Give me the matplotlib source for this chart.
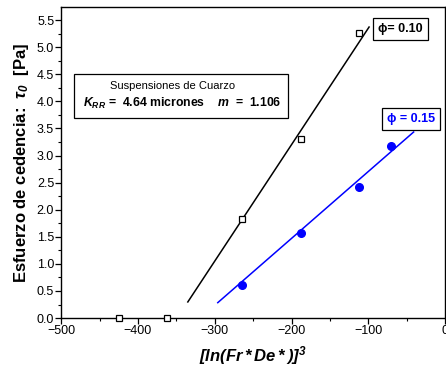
import numpy as np
import matplotlib
matplotlib.use('Agg')
import matplotlib.pyplot as plt
from matplotlib.ticker import MultipleLocator

plt.rcParams['font.family'] = ['Liberation Sans', 'DejaVu Sans']
plt.rcParams['mathtext.fontset'] = 'custom'
plt.rcParams['mathtext.rm'] = 'Liberation Sans'
plt.rcParams['mathtext.it'] = 'Liberation Sans:italic'
plt.rcParams['mathtext.bf'] = 'Liberation Sans:bold'
plt.rcParams['mathtext.bfit'] = 'Liberation Sans:italic:bold'

# phi = 0.10 (cuadros)
x_010 = [-425, -362, -265, -188, -112]
y_010 = [0.0, 0.0, 1.82, 3.30, 5.27]
# phi = 0.15 (circulos)
x_015 = [-265, -188, -112, -70]
y_015 = [0.61, 1.57, 2.41, 3.18]

# rectas de ajuste: pendiente, ordenada, rango en x
fit_010 = (0.0215, 7.50, -335, -99)
fit_015 = (0.01235, 3.94, -296, -41)

fig = plt.figure(figsize=(4.46, 3.72), dpi=100)
ax = fig.add_axes([0.137, 0.145, 0.861, 0.836])

for (m, b, x0, x1), col in [(fit_010, 'black'), (fit_015, 'blue')]:
    xs = np.array([x0, x1])
    ax.plot(xs, m * xs + b, color=col, lw=1.1)

ax.plot(x_015, y_015, 'o', color='blue', ms=5.5, zorder=3)
ax.plot(x_010, y_010, 's', mfc='white', mec='black', mew=0.9, ms=5, zorder=4, clip_on=False)

ax.set_xlim(-500, 0)
ax.set_ylim(0, 5.74)
ax.xaxis.set_major_locator(MultipleLocator(100))
ax.xaxis.set_minor_locator(MultipleLocator(50))
ax.yaxis.set_minor_locator(MultipleLocator(0.25))
ax.set_yticks(np.arange(0, 5.6, 0.5))
ax.set_yticklabels([f'{v:.1f}' for v in ax.get_yticks()])
ax.tick_params(which='major', direction='out', length=4, width=0.9, labelsize=9, pad=1)
ax.tick_params(which='minor', direction='out', length=2.5, width=0.8)
for s in ax.spines.values():
    s.set_linewidth(1.0)

ax.set_xlabel(r'$\mathbfit{[ln(Fr*De*)]^3}$', fontsize=12, labelpad=5)
ax.set_ylabel(r'Esfuerzo de cedencia:  $\mathbfit{\tau_0}$  [Pa]', fontsize=12,
              fontweight='bold', labelpad=4)

ax.text(0.29, 0.745, 'Suspensiones de Cuarzo', transform=ax.transAxes, ha='center',
        va='center', fontsize=8)
ax.text(0.316, 0.69, r'$\mathbfit{K_{RR}}$' + ' =  4.64 micrones    ' +
        r'$\mathbfit{m}$' + '  =  1.106', transform=ax.transAxes, ha='center',
        va='center', fontsize=8.8, fontweight='bold')
ax.add_patch(plt.Rectangle((0.034, 0.643), 0.557, 0.142, transform=ax.transAxes,
                           fill=False, lw=0.9, ec='black'))

ax.text(0.884, 0.929, '\u03d5= 0.10', transform=ax.transAxes, ha='center', va='center',
        fontsize=9, fontweight='bold',
        bbox=dict(boxstyle='square,pad=0.4', fc='white', ec='black', lw=0.9))
ax.text(0.912, 0.64, '\u03d5 = 0.15', transform=ax.transAxes, ha='center', va='center',
        fontsize=9, fontweight='bold', color='blue',
        bbox=dict(boxstyle='square,pad=0.4', fc='white', ec='black', lw=0.9))

fig.savefig('out.png', dpi=100)
